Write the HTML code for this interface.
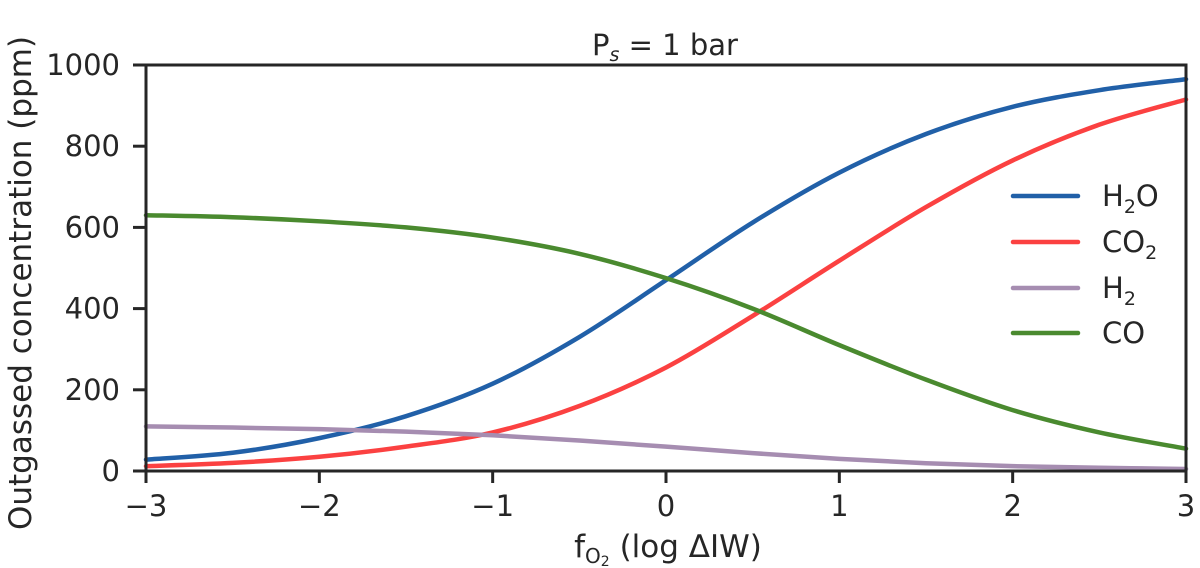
<!DOCTYPE html>
<html><head><meta charset="utf-8"><style>
html,body{margin:0;background:#fff;width:1200px;height:568px;overflow:hidden;}
svg{display:block;}
svg text{font-family:"DejaVu Sans","Liberation Sans",sans-serif;fill:#262626;}
</style></head><body>
<svg id="chart" width="1200" height="568">
<g id="plot"></g>
<text x="665" y="55" text-anchor="middle" font-size="29">P<tspan font-size="19" dy="6" font-style="italic">s</tspan><tspan dy="-6"> = 1 bar</tspan></text>
<text x="668" y="557" text-anchor="middle" font-size="31">f<tspan font-size="20" dy="6">O</tspan><tspan font-size="14" dy="3">2</tspan><tspan dy="-9"> (log ΔIW)</tspan></text>
<text transform="translate(31,283) rotate(-90)" text-anchor="middle" font-size="31">Outgassed concentration (ppm)</text>
</svg>
<script>
const xs=[-3,-2.5,-2,-1.5,-1,-0.5,0,0.5,1,1.5,2,2.5,3];
const h2o=[28,45,81,135,215,330,470,612,735,830,897,938,965];
const co2=[12,20,35,60,95,160,255,382,518,650,765,853,915];
const h2=[110,107,103,97,88,75,60,44,30,19,12,8,5];
const co=[630,625,615,600,575,535,475,400,310,225,150,95,55];
const xTicks=[-3,-2,-1,0,1,2,3];
const yTicks=[0,200,400,600,800,1000];
const seriesNames=["H2O","CO2","H2","CO"];
const NS="http://www.w3.org/2000/svg";
const L=146,R=1186,T=65,B=471;
const sx=v=>L+(v+3)/6*(R-L);
const sy=v=>B-v/1000*(B-T);
const g=document.getElementById('plot');
function mk(tag,attrs,parent){const e=document.createElementNS(NS,tag);for(const k in attrs)e.setAttribute(k,attrs[k]);(parent||g).appendChild(e);return e;}
function path(vals){
  const p=xs.map((x,i)=>[sx(x),sy(vals[i])]);
  let d=`M${p[0][0]},${p[0][1]}`;
  for(let i=0;i<p.length-1;i++){
    const p0=p[Math.max(0,i-1)],p1=p[i],p2=p[i+1],p3=p[Math.min(p.length-1,i+2)];
    d+=` C${p1[0]+(p2[0]-p0[0])/6},${p1[1]+(p2[1]-p0[1])/6} ${p2[0]-(p3[0]-p1[0])/6},${p2[1]-(p3[1]-p1[1])/6} ${p2[0]},${p2[1]}`;
  }
  return d;
}
const series=[[h2o,'#2160a8','h2o-line'],[co2,'#fb4141','co2-line'],[h2,'#a68db1','h2-line'],[co,'#4a8a2f','co-line']];
series.forEach(s=>{
  const e=mk('path',{d:path(s[0]),fill:'none',stroke:s[1],'stroke-width':4.5,'stroke-linecap':'round'});
  
  
});
const frame=mk('rect',{x:L,y:T,width:R-L,height:B-T,fill:'none',stroke:'#262626','stroke-width':3});


xTicks.forEach(v=>{
  const x=sx(v);
  const t=mk('line',{x1:x,x2:x,y1:B,y2:B+12,stroke:'#262626','stroke-width':3});
  
  
  const lb=mk('text',{x:x,y:B+45,'text-anchor':'middle','font-size':29});
  lb.textContent=v<0?'\u2212'+(-v):String(v);
  
  
});
yTicks.forEach(v=>{
  const y=sy(v);
  const t=mk('line',{x1:L-13,x2:L,y1:y,y2:y,stroke:'#262626','stroke-width':3});
  
  
  const lb=mk('text',{x:L-26,y:y+10,'text-anchor':'end','font-size':29});
  lb.textContent=String(v);
  
  
});
const legY=[196,242,288,333];
const legLabels=['H<tspan font-size="19" dy="7">2</tspan><tspan dy="-7">O</tspan>','CO<tspan font-size="19" dy="7">2</tspan>','H<tspan font-size="19" dy="7">2</tspan>','CO'];
series.forEach((s,i)=>{
  const ln=mk('line',{x1:1013,x2:1078,y1:legY[i],y2:legY[i],stroke:s[1],'stroke-width':4.5,'stroke-linecap':'round'});
  
  
  const tx=mk('text',{x:1102,y:legY[i]+10,'font-size':29});
  tx.innerHTML=legLabels[i];
  
  
});
</script>
</body></html>
